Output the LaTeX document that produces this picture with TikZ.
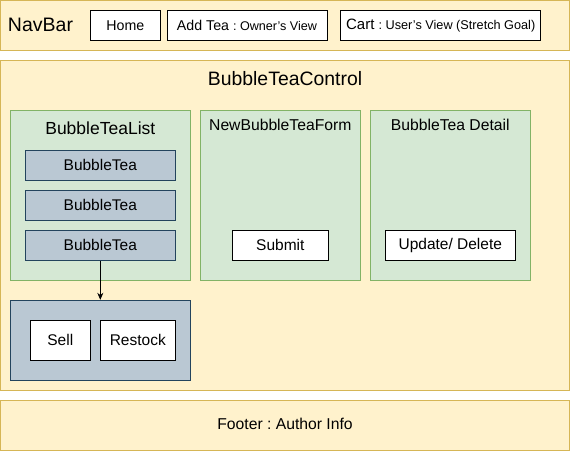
\documentclass[tikz,border=0pt]{standalone}
\usepackage{fontspec}
\setmainfont{Liberation Sans}
\frenchspacing
\usetikzlibrary{positioning,arrows.meta}
\definecolor{padfill}{HTML}{FFF2CC}
\definecolor{padline}{HTML}{D6B656}
\definecolor{panelfill}{HTML}{D5E8D4}
\definecolor{panelline}{HTML}{82B366}
\definecolor{itemfill}{HTML}{BAC8D3}
\definecolor{itemline}{HTML}{23445D}
\newcommand{\fsz}[1]{\fontsize{#1}{#1}\selectfont}

\begin{document}
\begin{tikzpicture}[x=1pt,y=-1pt,line width=1pt,node distance=40pt,on grid,
    pad/.style={draw=padline,fill=padfill,inner sep=0pt,minimum width=569pt},
    panel/.style={draw=panelline,fill=panelfill,inner sep=0pt,minimum width=160pt,minimum height=170pt},
    item/.style={draw=itemline,fill=itemfill,inner sep=0pt,minimum width=150pt,minimum height=30pt,font=\fsz{15.5}},
    btn/.style={draw=black,fill=white,inner sep=0pt,minimum height=30pt,font=\fsz{15.5}},
    title/.style={inner sep=0pt,font=\fsz{15.7}}]
    \useasboundingbox (0,0) rectangle (571,451);
       \node [pad, minimum height=50pt] (nav) at (285,25) {};
       \node [title, font=\fsz{19.5}] (navtitle) at (40.5,25) {NavBar};
       \node [btn, minimum width=70pt, font=\fsz{14.2}] (home) at (125.3,25.2) {Home};
       \node [btn, minimum width=160pt, font=\fsz{14.2}] (addtea) at (247,25.2) {Add Tea {\fsz{12.6}: Owner's View}};
       \node [btn, minimum width=200pt, font=\fsz{15}] (cart) at (440.7,25.2) {Cart {\fsz{12.7}: User's View (Stretch Goal)}};

       \node [pad, minimum height=330pt] (control) at (285,225.3) {};
       \node [title, font=\fsz{19.4}] (controltitle) at (285,78.3) {BubbleTeaControl};

       \node [panel, minimum width=180pt] (list) at (100.3,195.3) {};
       \node [title, font=\fsz{17.5}] (listtitle) at (100.3,128.3) {BubbleTeaList};
       \node [item] (tea1) at (100.3,165.3) {BubbleTea};
       \node [item, below=of tea1] (tea2) {BubbleTea};
       \node [item, below=of tea2] (tea3) {BubbleTea};

       \node [panel] (form) at (280.3,195.3) {};
       \node [title] (formtitle) at (280.3,125.3) {NewBubbleTeaForm};
       \node [btn, minimum width=96pt] (submit) at (280.3,245.3) {Submit};

       \node [panel] (detail) at (450.3,195.3) {};
       \node [title] (detailtitle) at (450.3,125.3) {BubbleTea Detail};
       \node [btn, minimum width=130pt] (update) at (450.3,245.3) {Update/ Delete};

       \node [draw=itemline, fill=itemfill, inner sep=0pt, minimum width=180pt, minimum height=80pt] (actions) at (100.3,340.3) {};
       \node [btn, minimum width=60pt, minimum height=40pt] (sell) at (60.3,340.3) {Sell};
       \node [btn, minimum width=75pt, minimum height=40pt] (restock) at (137.8,340.3) {Restock};

       \node [pad, minimum height=50pt] (footer) at (285,425) {};
       \node [title] (footertitle) at (285,424) {Footer : Author Info};

        \draw [-{Stealth[length=7pt,width=6pt]}, line width=0.8pt] (tea3) -- (actions);
    \end{tikzpicture}
\end{document}
